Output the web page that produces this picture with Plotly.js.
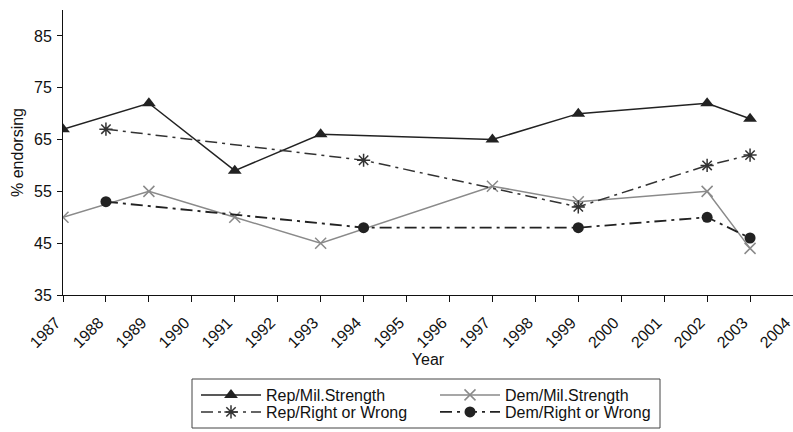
<!DOCTYPE html>
<html>
<head>
<meta charset="utf-8">
<script src="https://cdn.plot.ly/plotly-3.0.1.min.js"></script>
<style>html,body{margin:0;padding:0;background:#fff;}#chart{width:793px;height:432px;}</style>
</head>
<body>
<div id="chart"></div>
<script>
// Data
const repMilYears = [1987, 1989, 1991, 1993, 1997, 1999, 2002, 2003];
const repMilValues = [67, 72, 59, 66, 65, 70, 72, 69];
const demMilYears = [1987, 1989, 1991, 1993, 1997, 1999, 2002, 2003];
const demMilValues = [50, 55, 50, 45, 56, 53, 55, 44];
const repRWYears = [1988, 1994, 1999, 2002, 2003];
const repRWValues = [67, 61, 52, 60, 62];
const demRWYears = [1988, 1994, 1999, 2002, 2003];
const demRWValues = [53, 48, 48, 50, 46];
const seriesNames = ["Rep/Mil.Strength", "Dem/Mil.Strength", "Rep/Right or Wrong", "Dem/Right or Wrong"];
const yTicks = [35, 45, 55, 65, 75, 85];
const xTicks = [1987,1988,1989,1990,1991,1992,1993,1994,1995,1996,1997,1998,1999,2000,2001,2002,2003,2004];

const FONT = "'Liberation Sans', Arial, Helvetica, sans-serif";
const dashDot = "12px,5px,3px,5px";

const traces = [
  {x: repMilYears, y: repMilValues, name: seriesNames[0], mode: "lines+markers", legend: "legend",
   line: {color: "#222", width: 1.5},
   marker: {symbol: "triangle-up", size: 12, color: "#222"}},
  {x: demMilYears, y: demMilValues, name: seriesNames[1], mode: "lines+markers", legend: "legend",
   line: {color: "#8a8a8a", width: 1.5},
   marker: {symbol: "x-thin-open", size: 11, color: "#8a8a8a", line: {color: "#8a8a8a", width: 1.5}}},
  {x: repRWYears, y: repRWValues, name: seriesNames[2], mode: "lines+markers", legend: "legend2",
   line: {color: "#333", width: 1.5, dash: dashDot},
   marker: {symbol: "asterisk-open", size: 11, color: "#333", line: {color: "#333", width: 1.5}}},
  {x: demRWYears, y: demRWValues, name: seriesNames[3], mode: "lines+markers", legend: "legend2",
   line: {color: "#222", width: 1.8, dash: dashDot},
   marker: {symbol: "circle", size: 11, color: "#222"}}
];

const legendBase = {
  orientation: "h", xref: "container", yref: "container",
  x: 196 / 793, xanchor: "left", yanchor: "middle",
  entrywidth: 164, entrywidthmode: "pixels", itemwidth: 60,
  borderwidth: 0, bgcolor: "rgba(0,0,0,0)",
  font: {family: FONT, size: 16, color: "#111"},
  itemclick: false
};

const layout = {
  width: 793, height: 432,
  margin: {l: 63, r: 0, t: 10, b: 137},
  paper_bgcolor: "#fff", plot_bgcolor: "#fff",
  font: {family: FONT, size: 16, color: "#111"},
  showlegend: true,
  legend: Object.assign({}, legendBase, {y: 1 - 395 / 432}),
  legend2: Object.assign({}, legendBase, {y: 1 - 412 / 432}),
  shapes: [{
    type: "rect", xref: "paper", yref: "paper",
    x0: (192 - 63) / 730, x1: (660 - 63) / 730,
    y0: (295 - 379) / 285, y1: (295 - 428) / 285,
    line: {color: "#444", width: 1}, fillcolor: "rgba(0,0,0,0)", layer: "below"
  }],
  xaxis: {
    range: [1987, 2004], tickvals: xTicks, ticktext: xTicks.map(String),
    tickangle: -45, ticks: "outside", ticklen: 6, tickcolor: "#111",
    ticklabelstandoff: 5, ticklabelshift: -7, ticklabeloverflow: "allow",
    showline: true, linecolor: "#111", linewidth: 1, showgrid: false, zeroline: false,
    tickfont: {family: FONT, size: 16, color: "#111"},
    title: {text: "Year", font: {family: FONT, size: 16, color: "#111"}, standoff: 0}
  },
  yaxis: {
    range: [35, 90], tickvals: yTicks, ticktext: yTicks.map(String),
    ticks: "outside", ticklen: 5, tickcolor: "#111",
    ticklabelstandoff: 2,
    showline: true, linecolor: "#111", linewidth: 1, showgrid: false, zeroline: false,
    tickfont: {family: FONT, size: 16, color: "#111"},
    title: {text: "% endorsing", font: {family: FONT, size: 16, color: "#111"}, standoff: 6}
  }
};

Plotly.newPlot("chart", traces, layout, {displayModeBar: false, staticPlot: true});
</script>
</body>
</html>
